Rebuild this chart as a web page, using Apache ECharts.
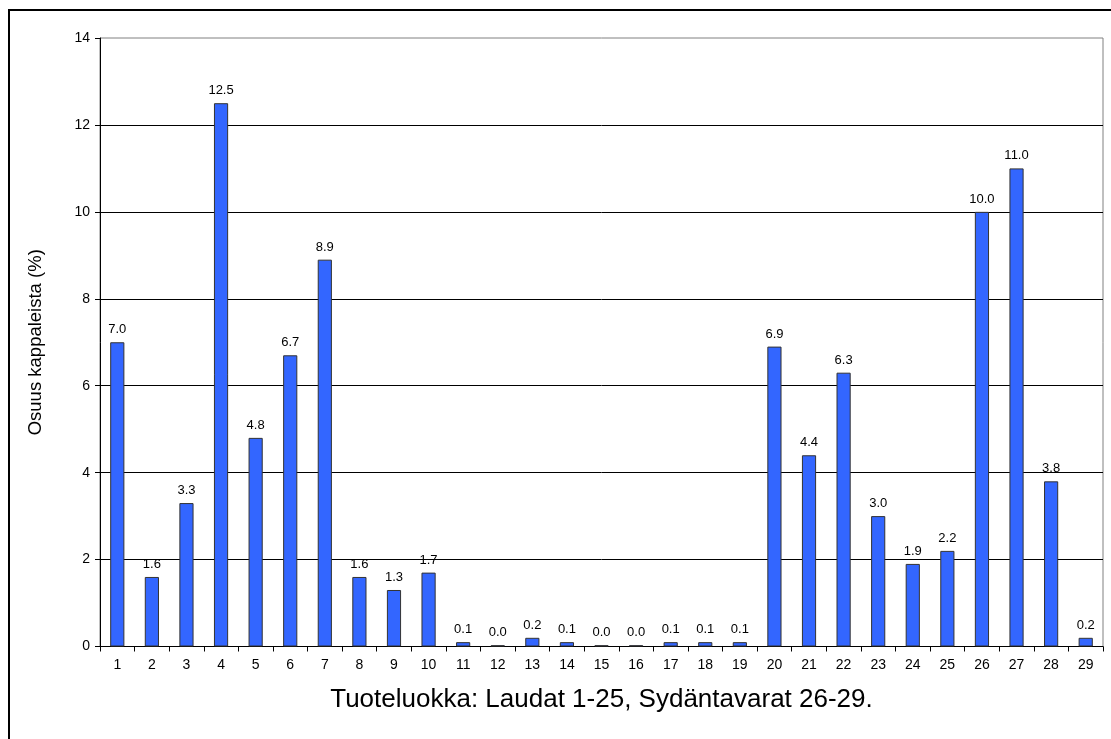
<!DOCTYPE html>
<html>
<head>
<meta charset="utf-8">
<script src="https://cdn.jsdelivr.net/npm/echarts@6/dist/echarts.min.js"></script>
<style>
  html, body { margin: 0; padding: 0; background: #fff; }
  #chart { width: 1111px; height: 739px; }
</style>
</head>
<body>
<div id="chart"></div>
<script>
// Product classes 1-29
const categories = ['1','2','3','4','5','6','7','8','9','10','11','12','13','14','15','16','17','18','19','20','21','22','23','24','25','26','27','28','29'];
// Share of pieces (%) per product class
const shares = [7.0, 1.6, 3.3, 12.5, 4.8, 6.7, 8.9, 1.6, 1.3, 1.7, 0.1, 0.03, 0.2, 0.1, 0.03, 0.03, 0.1, 0.1, 0.1, 6.9, 4.4, 6.3, 3.0, 1.9, 2.2, 10.0, 11.0, 3.8, 0.2];
const yTicks = [0, 2, 4, 6, 8, 10, 12, 14];

const chart = echarts.init(document.getElementById('chart'), null, { renderer: 'canvas' });
const font = 'Arial, "Liberation Sans", sans-serif';

chart.setOption({
  animation: false,
  backgroundColor: '#ffffff',
  graphic: [{
    type: 'rect',
    shape: { x: 9, y: 10, width: 1300, height: 900 },
    style: { fill: 'none', stroke: '#000', lineWidth: 2 },
    silent: true,
    z: 100
  }],
  grid: {
    left: 100, right: 8, top: 38, bottom: 92.5,
    show: true, borderColor: '#808080', borderWidth: 1, backgroundColor: 'transparent'
  },
  xAxis: {
    type: 'category',
    data: categories,
    boundaryGap: true,
    name: 'Tuoteluokka: Laudat 1-25, Sydäntavarat 26-29.',
    nameLocation: 'middle',
    nameGap: 40,
    nameTextStyle: { fontFamily: font, fontSize: 26, color: '#000' },
    axisLine: { lineStyle: { color: '#000', width: 1 } },
    axisTick: { show: true, alignWithLabel: false, length: 5, lineStyle: { color: '#000' } },
    axisLabel: { fontFamily: font, fontSize: 14, color: '#000', margin: 12, interval: 0 },
    splitLine: { show: false }
  },
  yAxis: {
    type: 'value',
    min: yTicks[0],
    max: yTicks[yTicks.length - 1],
    interval: 2,
    name: 'Osuus kappaleista (%)',
    nameLocation: 'middle',
    nameGap: 55,
    nameRotate: 90,
    nameTextStyle: { fontFamily: font, fontSize: 18.5, color: '#000' },
    axisLine: { show: true, lineStyle: { color: '#000', width: 1 } },
    axisTick: { show: true, length: 5, lineStyle: { color: '#000' } },
    axisLabel: { fontFamily: font, fontSize: 14, color: '#000', margin: 10 },
    splitLine: { show: true, showMaxLine: false, lineStyle: { color: '#000', width: 1 } }
  },
  series: [{
    type: 'bar',
    data: shares,
    barWidth: '41%',
    itemStyle: { color: '#3366ff', borderColor: '#333333', borderWidth: 1 },
    label: {
      show: true,
      position: 'top',
      distance: 6,
      fontFamily: font,
      fontSize: 13,
      color: '#000',
      formatter: p => p.value.toFixed(1)
    }
  }]
});
</script>
</body>
</html>
